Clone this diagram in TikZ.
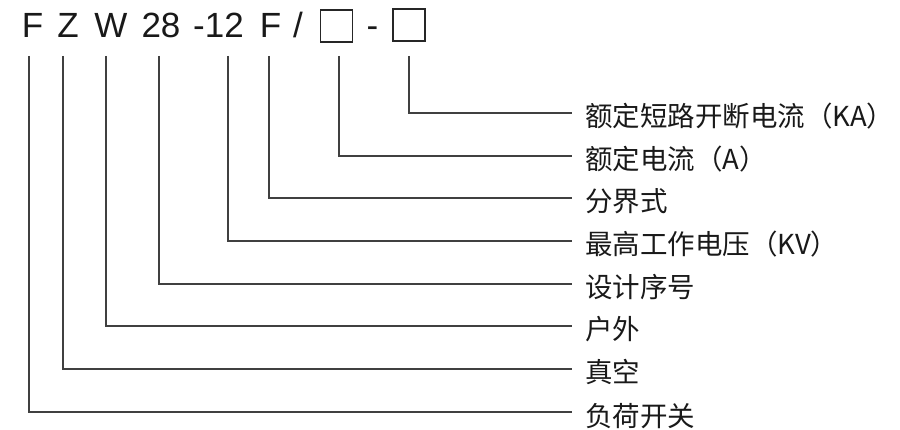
\documentclass[tikz,border=0pt]{standalone}
\usepackage{fontspec}
\setmainfont{Liberation Sans}
\newfontfamily\cjk{Noto Sans CJK SC}
\begin{document}
\begin{tikzpicture}[x=1pt,y=-1pt,
  code/.style={font=\fontsize{35}{35}\selectfont, inner sep=0pt, anchor=base, text=black!90},
  blank/.style={draw=black!85, line width=1.8pt, minimum width=32pt, minimum height=32pt, inner sep=0pt},
  lbl/.style={font=\cjk\fontsize{27.5}{28}\selectfont, inner sep=0pt, anchor=base west, text=black!90},
  lead/.style={draw=black!75, line width=1.1pt}]
\useasboundingbox (0,0) rectangle (900,430);
% code characters
\node[code] (cF) at (32.5,38) {F};
\node[code] (cZ) at (68,38) {Z};
\node[code] (cW) at (111,38) {W};
\node[code] (c28) at (161,38) {28};
\node[code] (c12) at (218.5,38) {-12};
\node[code] (cF2) at (270.5,38) {F};
\node[code] (cSl) at (298,38) {/};
\node[blank] (b1) at (336.5,26) {};
\node[code] (cDa) at (372.5,38) {-};
\node[blank] (b2) at (409,25) {};
% tops of leaders
\coordinate (t1) at (29,56);
\coordinate (t2) at (63,56);
\coordinate (t3) at (106,56);
\coordinate (t4) at (159,56);
\coordinate (t5) at (228,56);
\coordinate (t6) at (269,56);
\coordinate (t7) at (339,56);
\coordinate (t8) at (409,56);
% ends of leaders
\coordinate (e8) at (572,113);
\coordinate (e7) at (572,156);
\coordinate (e6) at (572,198);
\coordinate (e5) at (572,241);
\coordinate (e4) at (572,284);
\coordinate (e3) at (572,326);
\coordinate (e2) at (572,369);
\coordinate (e1) at (572,412);
% labels
\node[lbl] (l8) at (585,127) {额定短路开断电流（KA）};
\node[lbl] (l7) at (585,170) {额定电流（A）};
\node[lbl] (l6) at (585,212) {分界式};
\node[lbl] (l5) at (585,255) {最高工作电压（KV）};
\node[lbl] (l4) at (585,298) {设计序号};
\node[lbl] (l3) at (585,340) {户外};
\node[lbl] (l2) at (585,383) {真空};
\node[lbl] (l1) at (585,426) {负荷开关};
% leaders
\draw[lead] (t1) |- (e1);
\draw[lead] (t2) |- (e2);
\draw[lead] (t3) |- (e3);
\draw[lead] (t4) |- (e4);
\draw[lead] (t5) |- (e5);
\draw[lead] (t6) |- (e6);
\draw[lead] (t7) |- (e7);
\draw[lead] (t8) |- (e8);
\end{tikzpicture}
\end{document}
